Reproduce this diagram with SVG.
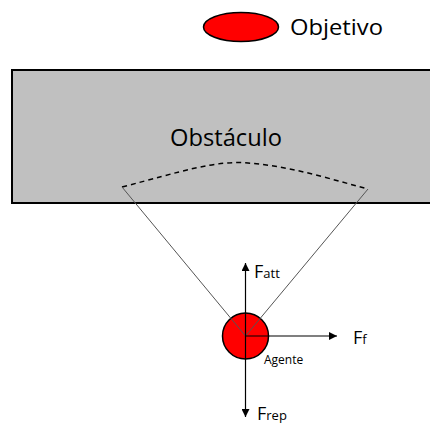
<svg xmlns="http://www.w3.org/2000/svg" width="430" height="425" viewBox="0 0 430 425">
<defs>
<style>
text{font-family:"Open Sans","Noto Sans",sans-serif;fill:#000}
.sight{stroke:#555;stroke-width:1;fill:none}
.force{stroke:#000;stroke-width:1.2;fill:none}
</style>
<marker id="ah" viewBox="0 0 10 10" refX="10" refY="5" markerWidth="8" markerHeight="8" markerUnits="userSpaceOnUse" orient="auto">
<path d="M0,0 L10,5 L0,10 Z" fill="#000"/>
</marker>
</defs>
<rect width="430" height="425" fill="#fff"/>
<g id="legend">
<ellipse cx="241" cy="27" rx="37.5" ry="14.5" fill="#f00" stroke="#000" stroke-width="1.5"/>
<text x="290" y="35" font-size="22" textLength="93" lengthAdjust="spacingAndGlyphs">Objetivo</text>
</g>
<g id="obstacle">
<rect x="12" y="70" width="425" height="133" fill="#c0c0c0" stroke="#000" stroke-width="2"/>
<text x="170" y="146" font-size="23" textLength="112" lengthAdjust="spacingAndGlyphs">Obstáculo</text>
<path d="M122,187 C180,172 215,160 248,163 C290,166 330,179 368,189" fill="none" stroke="#000" stroke-width="1.5" stroke-dasharray="5,4"/>
</g>
<g id="agent">
<circle cx="245.5" cy="336" r="23" fill="#f00" stroke="#000" stroke-width="1.5"/>
<text x="264" y="364" font-size="12">Agente</text>
</g>
<g id="connectors">
<line class="sight" x1="122" y1="187" x2="245.5" y2="336"/>
<line class="sight" x1="368" y1="189" x2="245.5" y2="336"/>
<line class="force" x1="245.5" y1="336" x2="245.5" y2="263" marker-end="url(#ah)"/>
<line class="force" x1="245.5" y1="336" x2="337" y2="336" marker-end="url(#ah)"/>
<line class="force" x1="245.5" y1="336" x2="245.5" y2="417" marker-end="url(#ah)"/>
</g>
<g id="labels">
<text x="254" y="278" font-size="18">F<tspan font-size="13">att</tspan></text>
<text x="353" y="344" font-size="18">F<tspan font-size="13">f</tspan></text>
<text x="257" y="420" font-size="18">F<tspan font-size="13">rep</tspan></text>
</g>
</svg>
